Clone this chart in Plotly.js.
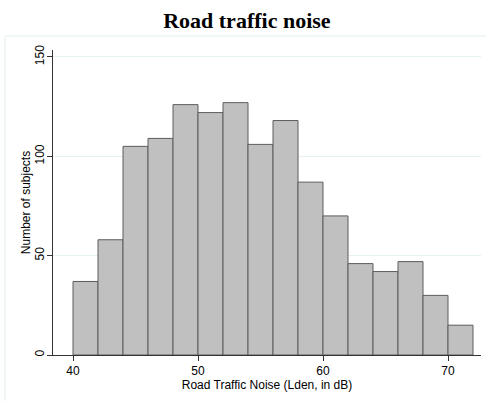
<!DOCTYPE html>
<html>
<head>
<meta charset="utf-8">
<script src="https://cdn.plot.ly/plotly-3.0.1.min.js"></script>
<style>html,body{margin:0;padding:0;background:#fff;}#chart{width:486px;height:401px;}</style>
</head>
<body>
<div id="chart"></div>
<script>
// Bin lower edges (dB) and counts per 2 dB bin
const binLower = [40, 42, 44, 46, 48, 50, 52, 54, 56, 58, 60, 62, 64, 66, 68, 70];
const binWidth = 2;
const counts = [37, 58, 105, 109, 126, 122, 127, 106, 118, 87, 70, 46, 42, 47, 30, 15];
const xTicks = [40, 50, 60, 70];
const yTicks = [0, 50, 100, 150];

const trace = {
  type: 'bar',
  x: binLower.map(v => v + binWidth / 2),
  y: counts,
  width: binLower.map(() => binWidth),
  marker: {color: '#c0c0c0', line: {color: '#5c5c5c', width: 1}},
  hoverinfo: 'none'
};

const layout = {
  width: 486, height: 401,
  margin: {l: 53, r: 5, t: 50, b: 46},
  paper_bgcolor: '#ffffff', plot_bgcolor: '#ffffff',
  showlegend: false,
  bargap: 0,
  title: {
    text: '<b>Road traffic noise</b>',
    font: {family: 'Liberation Serif, Times New Roman, serif', size: 22, color: '#000'},
    x: 0.508, xanchor: 'center', xref: 'container',
    y: 0.95, yanchor: 'middle', yref: 'container'
  },
  xaxis: {
    range: [38.4, 72.64],
    tickvals: xTicks, ticktext: xTicks.map(String),
    ticks: 'outside', ticklen: 5, tickcolor: '#333', tickwidth: 1,
    showline: true, linecolor: '#333', linewidth: 1,
    showgrid: false, zeroline: false,
    tickfont: {family: 'Liberation Sans, Arial, sans-serif', size: 12, color: '#000'},
    title: {text: 'Road Traffic Noise (Lden, in dB)', standoff: 2,
      font: {family: 'Liberation Sans, Arial, sans-serif', size: 12, color: '#000'}},
    fixedrange: true
  },
  yaxis: {
    range: [0, 153.5],
    tickvals: yTicks, ticktext: yTicks.map(String),
    tickangle: -90,
    ticks: 'outside', ticklen: 5, tickcolor: '#333', tickwidth: 1,
    ticklabelstandoff: -2,
    showline: true, linecolor: '#333', linewidth: 1,
    showgrid: true, gridcolor: '#e6f0f0', gridwidth: 1,
    zeroline: false,
    tickfont: {family: 'Liberation Sans, Arial, sans-serif', size: 12, color: '#000'},
    title: {text: 'Number of subjects', standoff: 0,
      font: {family: 'Liberation Sans, Arial, sans-serif', size: 12, color: '#000'}},
    fixedrange: true
  },
  shapes: [{
    type: 'rect', xref: 'paper', yref: 'paper',
    x0: -0.1121, x1: 1.02, y0: -0.2, y1: 1.0459,
    line: {color: '#e3eded', width: 1}, fillcolor: 'rgba(0,0,0,0)', layer: 'below'
  }]
};

Plotly.newPlot('chart', [trace], layout, {displayModeBar: false, staticPlot: true});
</script>
</body>
</html>
